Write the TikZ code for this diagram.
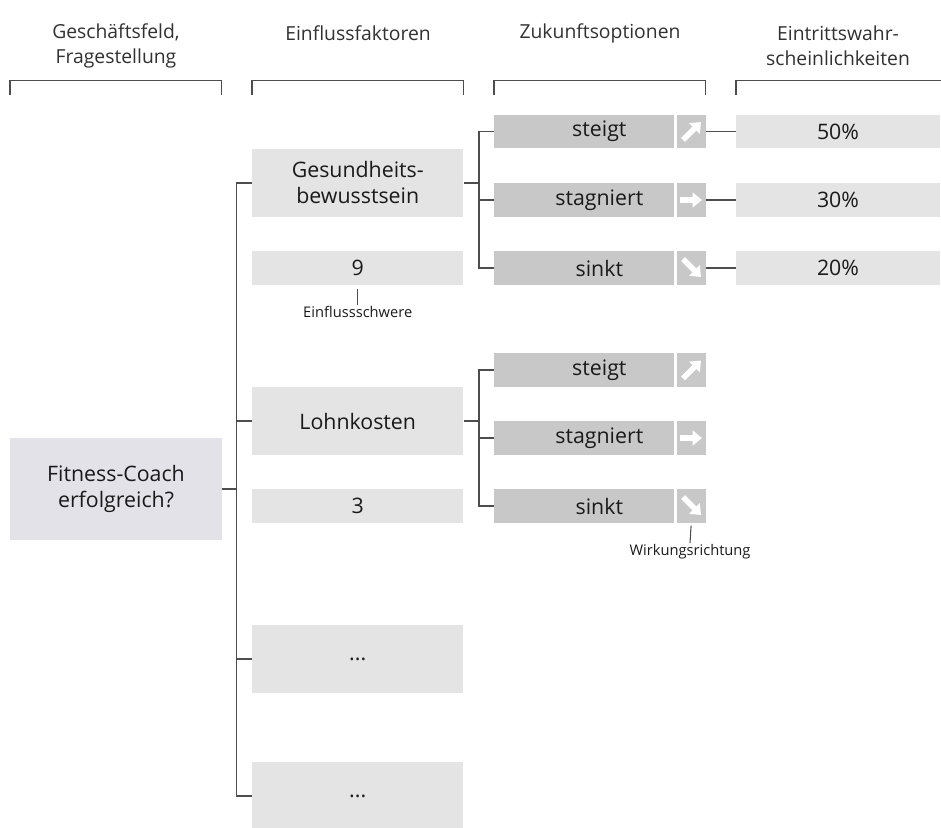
\documentclass[tikz,border=0pt]{standalone}
\usepackage{fontspec}
\setmainfont{Open Sans}
\usetikzlibrary{arrows.meta}
\definecolor{lnGray}{RGB}{77,77,77}
\definecolor{boxLight}{RGB}{228,228,228}
\definecolor{boxMid}{RGB}{200,200,200}
\definecolor{boxBlue}{RGB}{226,226,232}
\definecolor{txtDark}{RGB}{26,26,26}

\begin{document}
\begin{tikzpicture}[x=0.75pt,y=0.75pt,yscale=-1,xscale=1,
  ln/.style={draw=lnGray, line width=1pt},
  tick/.style={draw=lnGray, line width=0.8pt},
  hdr/.style={inner sep=0.75pt, align=center, text=txtDark!90, font=\fontsize{14.5}{18.75}\selectfont},
  fld/.style={fill=boxLight, inner sep=0pt, minimum width=158.6pt, align=center, text=txtDark, font=\fontsize{16}{19.5}\selectfont},
  opt/.style={fill=boxMid, inner sep=0pt, minimum width=135pt, minimum height=25pt, text=txtDark, font=\fontsize{16}{18}\selectfont, execute at begin node={\hspace*{23pt}}},
  arw/.style={fill=boxMid, inner sep=0pt, minimum width=21.4pt, minimum height=25pt},
  pct/.style={fill=boxLight, inner sep=0pt, minimum width=153pt, minimum height=25pt, text=txtDark, font=\fontsize{16}{18}\selectfont},
  note/.style={inner sep=1pt, text=txtDark, font=\fontsize{11}{13}\selectfont},
  icon/.style={draw=white, line width=4.2pt, -{Triangle[length=7pt,width=11pt]}}]
\useasboundingbox (0,0) rectangle (941,827);

% Header brackets
\foreach \xa/\xb in {10/221.5, 252/463.5, 494/705.5, 736/946}
  \draw[ln] (\xa,95) -- (\xa,80.5) -- (\xb,80.5) -- (\xb,95);

% Text Node
\node[hdr] (hGeschaeft) at (116,45.5) {Geschäftsfeld,\\Fragestellung};
% Text Node
\node[hdr] (hEinfluss) at (358,33) {Einflussfaktoren};
% Text Node
\node[hdr] (hZukunft) at (600,33) {Zukunftsoptionen};
% Text Node
\node[hdr] (hEintritt) at (838,45.5) {Eintrittswahr-\\scheinlichkeiten};

% Question
\node[fld, fill=boxBlue, minimum height=76.5pt] (fitness) at (116,489) {Fitness-Coach\\erfolgreich?};

% Factors
\node[fld, minimum height=51pt] (gesund) at (357.75,183) {Gesundheits-\\bewusstsein};
\node[fld, minimum height=25.5pt] (wert9) at (357.75,268) {9};
\node[fld, minimum height=51pt] (lohn) at (357.75,421) {Lohnkosten};
\node[fld, minimum height=25.5pt] (wert3) at (357.75,506) {3};
\node[fld, minimum height=51pt] (weiterA) at (357.75,659) {...};
\node[fld, minimum height=51pt] (weiterB) at (357.75,796) {...};

% Options, first factor
\node[opt] (steigtA) at (584,131.5) {steigt};
\node[arw] (pfeilA1) at (691.25,131.5) {};
\node[pct] (pctA1) at (838,131.5) {50\%};
\node[opt] (stagA) at (584,200) {stagniert};
\node[arw] (pfeilA2) at (691.25,200) {};
\node[pct] (pctA2) at (838,200) {30\%};
\node[opt] (sinktA) at (584,268) {sinkt};
\node[arw] (pfeilA3) at (691.25,268) {};
\node[pct] (pctA3) at (838,268) {20\%};

% Options, second factor
\node[opt] (steigtB) at (584,370) {steigt};
\node[arw] (pfeilB1) at (691.25,370) {};
\node[opt] (stagB) at (584,438) {stagniert};
\node[arw] (pfeilB2) at (691.25,438) {};
\node[opt] (sinktB) at (584,506) {sinkt};
\node[arw] (pfeilB3) at (691.25,506) {};

% Direction icons
\draw[icon] (683,140) -- (701,122);
\draw[icon] (680,200) -- (702,200);
\draw[icon] (683,259) -- (701,277);
\draw[icon] (683,378.5) -- (701,360.5);
\draw[icon] (680,438) -- (702,438);
\draw[icon] (683,497) -- (701,515);

% Notes
\node[note] (schwere) at (357.75,312) {Einflussschwere};
\node[note] (wirkung) at (690,552) {Wirkungsrichtung};

% Connection
\coordinate (stammL) at (236.5,183);
\coordinate (gabelA) at (479,200);
\coordinate (gabelB) at (479,438);
\draw[ln] (fitness.east) -- (fitness.east -| stammL);
\draw[ln] (gesund.west) -| (weiterB.west -| stammL) -- (weiterB.west);
\draw[ln] (lohn.west) -- (lohn.west -| stammL);
\draw[ln] (weiterA.west) -- (weiterA.west -| stammL);
% Connection
\draw[ln] (gesund.east) -- (gesund.east -| gabelA);
\draw[ln] (steigtA.west) -| (gabelA |- sinktA.west) -- (sinktA.west);
\draw[ln] (stagA.west) -- (stagA.west -| gabelA);
% Connection
\draw[ln] (lohn.east) -- (lohn.east -| gabelB);
\draw[ln] (steigtB.west) -| (gabelB |- sinktB.west) -- (sinktB.west);
\draw[ln] (stagB.west) -- (stagB.west -| gabelB);
% Connection
\draw[ln] (pfeilA1.east) -- (pctA1.west);
\draw[ln] (pfeilA2.east) -- (pctA2.west);
\draw[ln] (pfeilA3.east) -- (pctA3.west);
% Connection
\draw[tick, shorten <=3pt] (wert9.south) -- (schwere.north);
\draw[tick, shorten <=2pt] (pfeilB3.south) -- (wirkung.north);

\end{tikzpicture}
\end{document}
